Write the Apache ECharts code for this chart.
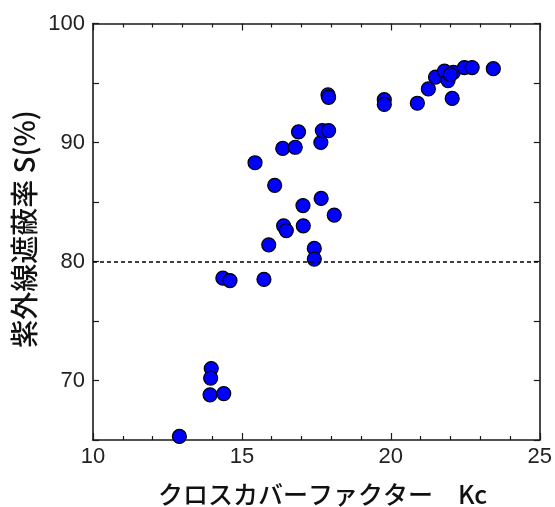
<!DOCTYPE html>
<html>
<head>
<meta charset="utf-8">
<script src="https://cdn.jsdelivr.net/npm/echarts@6/dist/echarts.min.js"></script>
<style>
html,body{margin:0;padding:0;background:#fff;}
#c{width:555px;height:507px;}
</style>
</head>
<body>
<div id="c"></div>
<script>
// Cross cover factor Kc
const kc = [12.90, 13.97, 13.95, 13.93, 14.39, 14.36, 14.60, 15.74, 15.90, 15.44,
            16.10, 16.37, 16.79, 16.90, 17.65, 17.70, 17.91, 17.89, 17.91, 17.05,
            17.66, 18.10, 16.40, 16.49, 17.06, 17.43, 17.43, 19.78, 19.78, 20.89,
            21.26, 21.50, 21.80, 21.92, 22.06, 22.10, 22.47, 22.73, 23.44, 22.00];
// UV shielding rate S (%)
const uv = [65.3, 71.0, 70.2, 68.8, 68.9, 78.6, 78.4, 78.5, 81.4, 88.3,
            86.4, 89.5, 89.6, 90.9, 90.0, 91.0, 91.0, 94.0, 93.8, 84.7,
            85.3, 83.9, 83.0, 82.6, 83.0, 81.1, 80.2, 93.6, 93.2, 93.3,
            94.5, 95.5, 96.0, 95.2, 93.7, 95.9, 96.3, 96.3, 96.2, 95.7];
const xTicks = [10, 15, 20, 25];
const yTicks = [70, 80, 90, 100];
const threshold = 80;
const xName = 'クロスカバーファクター\u3000Kc';
const yName = '紫外線遮蔽率 S(%)';

const pts = kc.map((x, i) => [x, uv[i]]);
const chart = echarts.init(document.getElementById('c'), null, {renderer: 'canvas'});
const axisCol = '#1a1a1a';
const labelFont = {fontFamily: 'Liberation Sans, Arial, sans-serif', fontSize: 22, color: '#222'};

function xAx(pos, showLabel) {
  return {
    type: 'value', position: pos, min: 10, max: 25, interval: 5,
    axisLine: {show: true, onZero: false, lineStyle: {color: axisCol, width: 1.6}},
    axisTick: {show: true, inside: true, length: 7, lineStyle: {color: axisCol, width: 1.2}},
    minorTick: {show: true, splitNumber: 5, length: 4, lineStyle: {color: axisCol, width: 1.2}},
    splitLine: {show: false}, minorSplitLine: {show: false},
    axisLabel: Object.assign({show: showLabel, margin: 6,
      formatter: v => xTicks.includes(v) ? String(v) : ''}, labelFont)
  };
}
function yAx(pos, showLabel) {
  return {
    type: 'value', position: pos, min: 65, max: 100, interval: 5,
    axisLine: {show: true, onZero: false, lineStyle: {color: axisCol, width: 1.6}},
    axisTick: {show: true, inside: true, length: 6, lineStyle: {color: axisCol, width: 1.2}},
    splitLine: {show: false},
    axisLabel: Object.assign({show: showLabel, margin: 8,
      formatter: v => yTicks.includes(v) ? String(v) : ''}, labelFont)
  };
}

chart.setOption({
  animation: false,
  backgroundColor: '#fff',
  grid: {left: 93, right: 11.5, top: 23.5, bottom: 67},
  xAxis: [xAx('bottom', true), xAx('top', false)],
  yAxis: [yAx('left', true), yAx('right', false)],
  graphic: [
    {type: 'text', x: 158, y: 494,
     style: {text: xName, fontFamily: 'Noto Sans CJK JP', fontSize: 25, fontWeight: 500, fill: '#111', align: 'left', verticalAlign: 'middle'}},
    {type: 'text', rotation: Math.PI / 2, x: 24, y: 229,
     style: {text: yName, fontFamily: 'Noto Sans CJK JP', fontSize: 28, fontWeight: 500, fill: '#111', align: 'center', verticalAlign: 'middle'}}
  ],
  series: [{
    type: 'scatter', xAxisIndex: 0, yAxisIndex: 0,
    data: pts, symbol: 'circle', symbolSize: 14,
    itemStyle: {color: '#0000ff', borderColor: '#000', borderWidth: 1.2, opacity: 1},
    markLine: {
      silent: true, symbol: 'none', label: {show: false},
      lineStyle: {color: '#000', type: [4, 3], width: 1.5},
      data: [{yAxis: threshold}]
    }
  }]
});
</script>
</body>
</html>
